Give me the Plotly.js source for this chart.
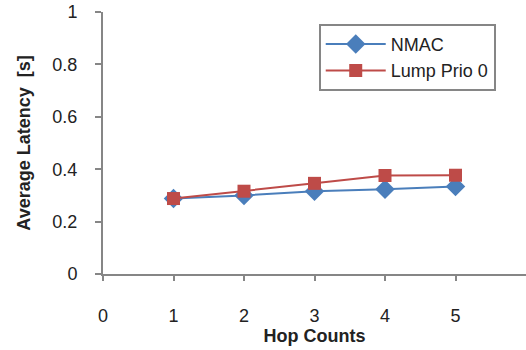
<!DOCTYPE html>
<html><head><meta charset="utf-8">
<script src="https://cdn.plot.ly/plotly-3.0.1.min.js"></script>
<style>html,body{margin:0;padding:0;background:#fff}#chart{width:526px;height:350px}</style>
</head><body><div id="chart"></div>
<script>
const hopCounts = [1, 2, 3, 4, 5];
const nmac = [0.288, 0.300, 0.316, 0.323, 0.334];
const lumpPrio0 = [0.288, 0.316, 0.346, 0.376, 0.377];
const seriesNames = ["NMAC", "Lump Prio 0"];
const xTicks = [0, 1, 2, 3, 4, 5];
const yTicks = [0, 0.2, 0.4, 0.6, 0.8, 1];

const font = "'Liberation Sans', Arial, sans-serif";
const traces = [
  {x: hopCounts, y: nmac, name: seriesNames[0], mode: "lines+markers",
   line: {color: "#4a7ebb", width: 2}, marker: {symbol: "diamond", size: 15, color: "#4a7ebb"}},
  {x: hopCounts, y: lumpPrio0, name: seriesNames[1], mode: "lines+markers",
   line: {color: "#be4b48", width: 2}, marker: {symbol: "square", size: 13, color: "#be4b48"}}
];
const layout = {
  width: 526, height: 350,
  margin: {l: 103, r: 0, t: 12, b: 76},
  paper_bgcolor: "#fff", plot_bgcolor: "#fff",
  font: {family: font, size: 18, color: "#222"},
  showlegend: true,
  legend: {x: 0.51, y: 0.955, xanchor: "left", yanchor: "top",
    bordercolor: "#868686", borderwidth: 2, bgcolor: "#fff",
    font: {family: font, size: 18, color: "#222"}, itemwidth: 60, tracegroupgap: 0,
    entrywidth: 140, entrywidthmode: "pixels"},
  xaxis: {range: [0, 6], tickvals: xTicks, ticktext: xTicks.map(String),
    showgrid: false, zeroline: false, showline: true, linecolor: "#868686", linewidth: 2,
    ticks: "outside", ticklen: 5, tickcolor: "#868686", tickwidth: 2,
    ticklabelstandoff: 19, ticklabeloverflow: "allow",
    title: {text: "<b>Hop Counts</b>", font: {family: font, size: 18, color: "#222"}, standoff: 2}},
  yaxis: {range: [0, 1], tickvals: yTicks, ticktext: ["0", "0.2", "0.4", "0.6", "0.8", "1"],
    showgrid: false, zeroline: false, showline: true, linecolor: "#868686", linewidth: 2,
    ticks: "outside", ticklen: 6, tickcolor: "#868686", tickwidth: 2,
    ticklabelstandoff: 14, ticklabeloverflow: "allow",
    title: {text: "<b>Average Latency&nbsp; [s]</b>", font: {family: font, size: 18, color: "#222"}, standoff: 17}}
};
Plotly.newPlot("chart", traces, layout, {displayModeBar: false, staticPlot: true});
</script></body></html>
